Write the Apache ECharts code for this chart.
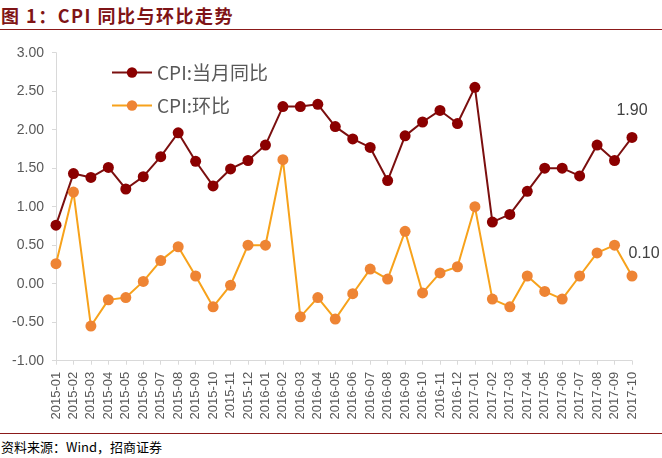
<!DOCTYPE html>
<html><head><meta charset="utf-8">
<script src="https://cdn.jsdelivr.net/npm/echarts@6/dist/echarts.min.js"></script>
<style>
html,body{margin:0;padding:0;background:#fff;}
#wrap{position:relative;width:662px;height:458px;overflow:hidden;}
#title{position:absolute;left:1px;top:2px;font-family:"Noto Sans CJK SC",serif;font-weight:bold;font-size:18px;letter-spacing:1.5px;color:#7f1416;}
#tline{position:absolute;left:0;top:29px;width:662px;height:1px;background:#8b1a1a;}
#bline{position:absolute;left:0;top:433px;width:662px;height:1px;background:#8b1a1a;}
#foot{position:absolute;left:1px;top:437px;font-family:"Noto Sans CJK SC",sans-serif;font-size:13px;color:#000;}
#chart{position:absolute;left:0;top:30px;width:662px;height:403px;}
</style></head>
<body><div id="wrap">
<div id="title">图 1：CPI 同比与环比走势</div>
<div id="tline"></div>
<div id="chart"></div>
<div id="bline"></div>
<div id="foot">资料来源：Wind，招商证券</div>
</div>
<script>
var categories = ["2015-01","2015-02","2015-03","2015-04","2015-05","2015-06","2015-07","2015-08","2015-09","2015-10","2015-11","2015-12",
"2016-01","2016-02","2016-03","2016-04","2016-05","2016-06","2016-07","2016-08","2016-09","2016-10","2016-11","2016-12",
"2017-01","2017-02","2017-03","2017-04","2017-05","2017-06","2017-07","2017-08","2017-09","2017-10"];
var yoyName = "CPI:当月同比";
var momName = "CPI:环比";
var yoy = [0.76,1.43,1.38,1.51,1.23,1.39,1.65,1.96,1.59,1.27,1.49,1.60,
1.80,2.30,2.30,2.33,2.04,1.88,1.77,1.34,1.92,2.10,2.25,2.08,
2.55,0.80,0.90,1.20,1.50,1.50,1.40,1.80,1.60,1.90];
var mom = [0.26,1.19,-0.55,-0.21,-0.18,0.03,0.30,0.48,0.10,-0.30,-0.02,0.50,
0.50,1.61,-0.43,-0.18,-0.46,-0.13,0.19,0.06,0.68,-0.12,0.14,0.22,
1.00,-0.20,-0.30,0.10,-0.10,-0.20,0.10,0.40,0.50,0.10];
var yMin = -1, yMax = 3, yStep = 0.5;

var chart = echarts.init(document.getElementById('chart'), null, {renderer:'canvas'});
var lastIdx = categories.length - 1;
function lastLabel(pos, offset){
  return {show:true, position:pos, offset:offset, fontSize:16, color:'#404040', fontFamily:'Liberation Sans',
    formatter:function(p){return p.dataIndex===lastIdx ? p.value.toFixed(2) : '';}};
}
chart.setOption({
  animation:false,
  grid:{left:56, right:30, top:22.7, bottom:403-330.7},
  legend:{orient:'vertical', left:106, top:28, itemWidth:40, itemHeight:13, itemGap:14,
    textStyle:{fontSize:19, color:'#595959', fontFamily:'Noto Sans CJK SC'},
    data:[yoyName, momName]},
  xAxis:[{type:'category', data:categories, boundaryGap:false,
    axisLine:{show:false}, axisTick:{show:false},
    axisLabel:{rotate:90, interval:0, fontSize:13, color:'#595959', fontFamily:'Liberation Sans', margin:11}},
   {type:'category', data:categories, boundaryGap:false, position:'bottom',
    axisLine:{show:true, onZero:true, lineStyle:{color:'#d9d9d9', width:1}},
    axisTick:{show:true, inside:false, length:4, interval:0, lineStyle:{color:'#d9d9d9'}},
    axisLabel:{show:false}}],
  yAxis:{type:'value', min:yMin, max:yMax, interval:yStep,
    axisLine:{show:true, lineStyle:{color:'#d9d9d9'}},
    axisTick:{show:true, length:4, lineStyle:{color:'#d9d9d9'}},
    splitLine:{show:false},
    axisLabel:{fontSize:14, color:'#595959', fontFamily:'Liberation Sans', margin:12,
      formatter:function(v){return v.toFixed(2);}}},
  series:[
   {name:yoyName, type:'line', data:yoy, xAxisIndex:0, symbol:'circle', symbolSize:11,
    lineStyle:{color:'#7b0f0f', width:2}, itemStyle:{color:'#8b0000'},
    label:lastLabel('top',[0,-8])},
   {name:momName, type:'line', data:mom, xAxisIndex:0, symbol:'circle', symbolSize:11,
    lineStyle:{color:'#f7a21b', width:2}, itemStyle:{color:'#ee8434'},
    label:lastLabel('top',[12,-4])}
  ]
});
</script>
</body></html>
